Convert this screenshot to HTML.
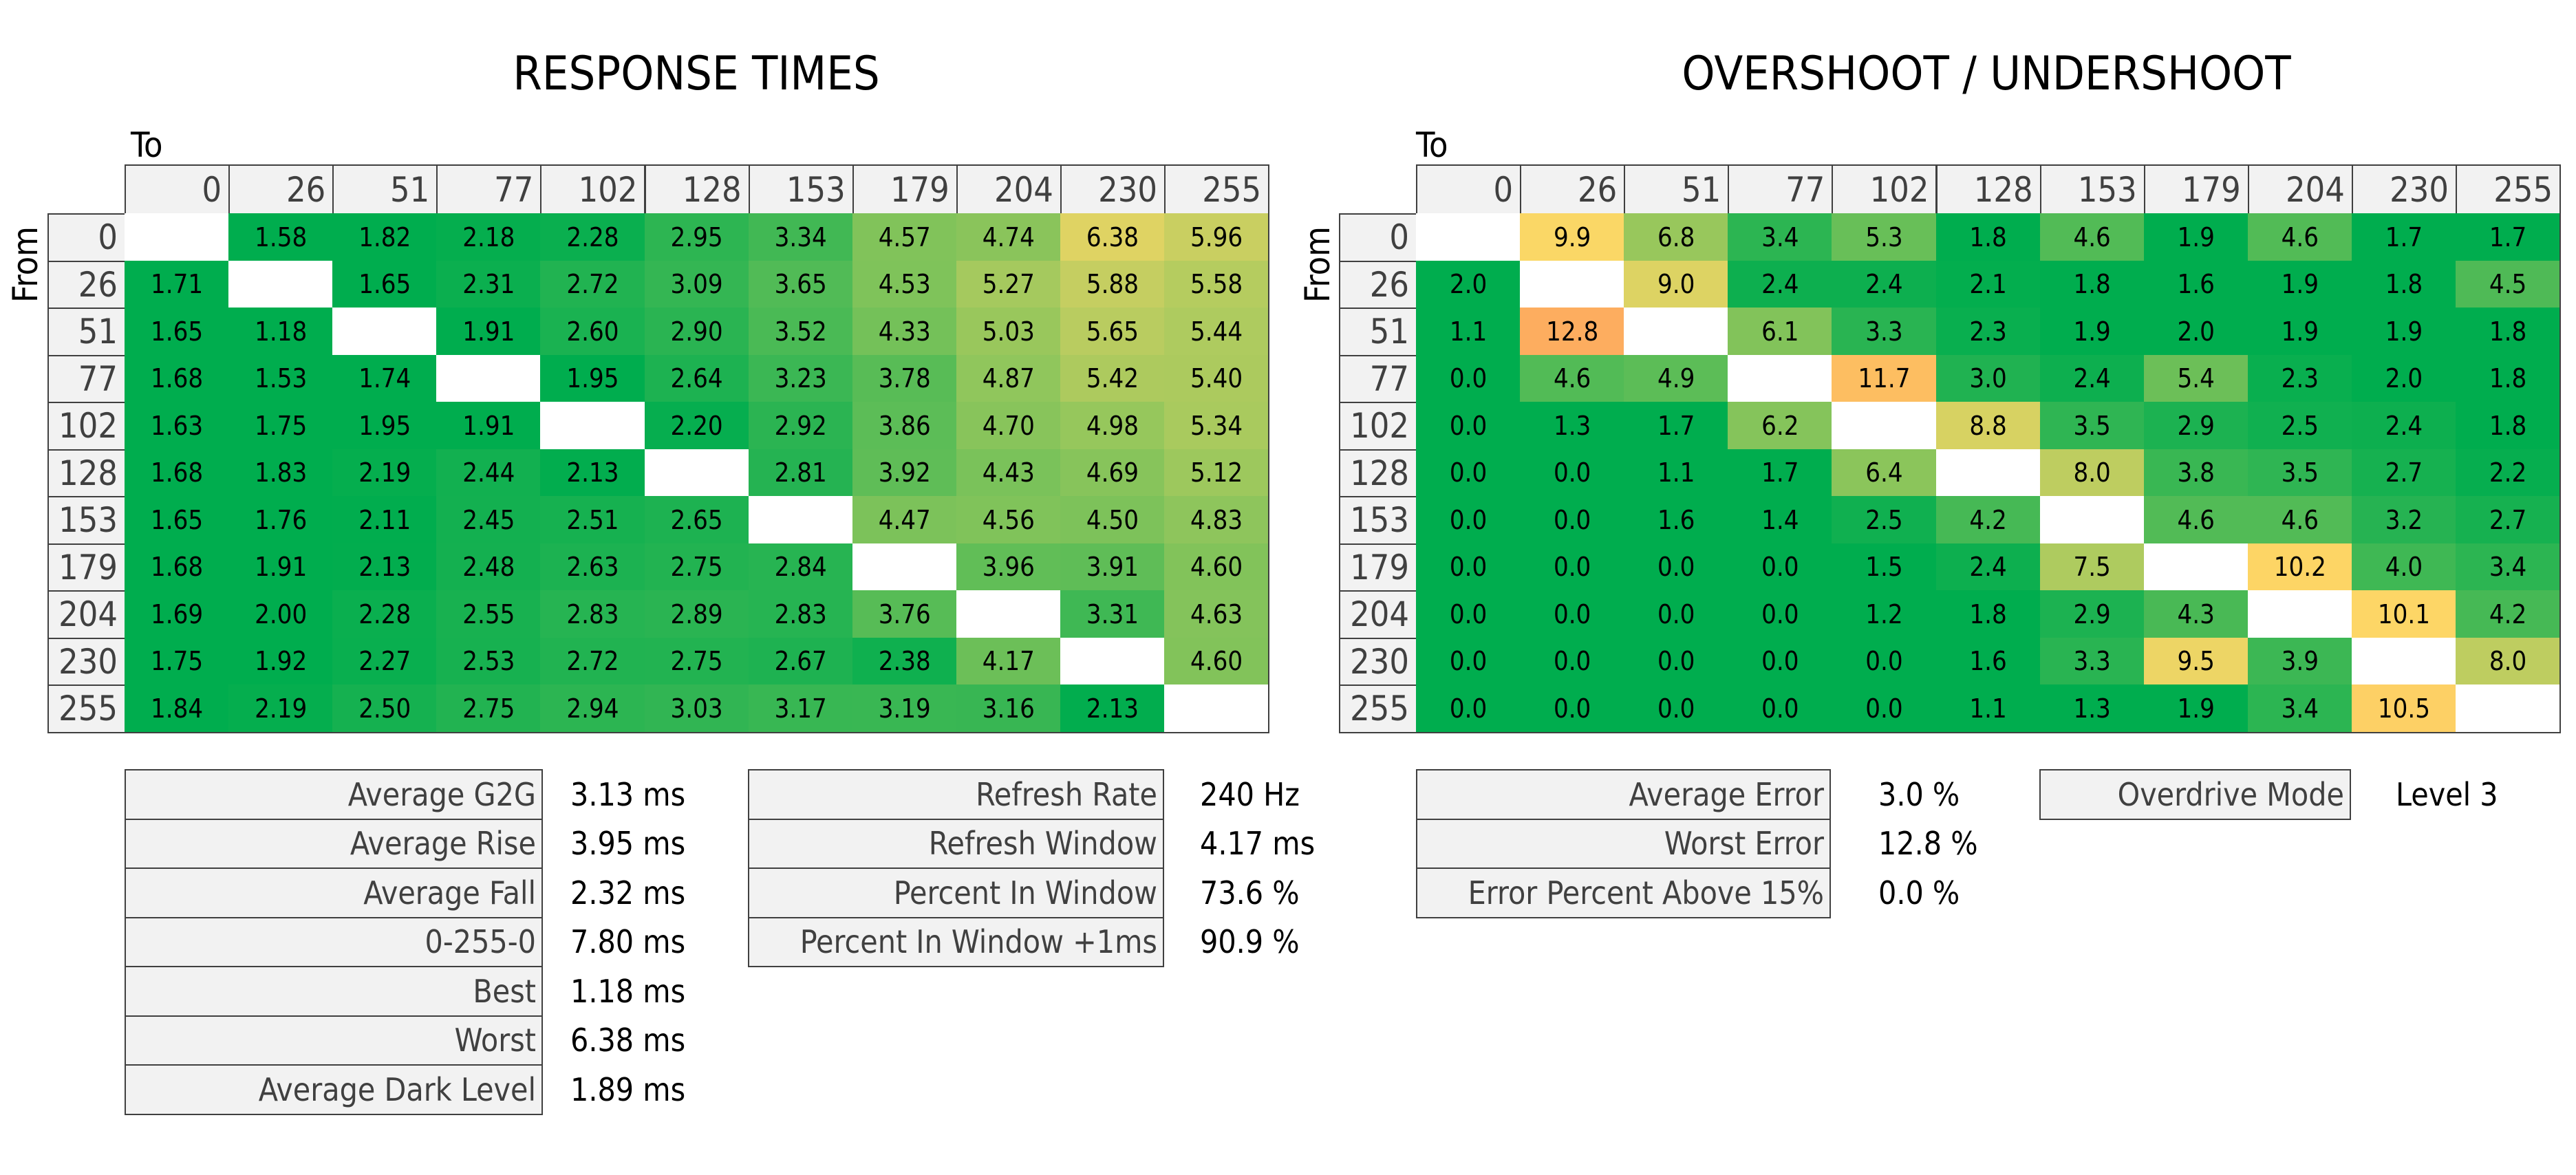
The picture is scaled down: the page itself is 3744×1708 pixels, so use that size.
<!DOCTYPE html>
<html><head><meta charset="utf-8"><style>
html,body{margin:0;padding:0;background:#fff;}
body{width:3744px;height:1708px;position:relative;overflow:hidden;font-family:"DejaVu Sans Condensed","DejaVu Sans","Liberation Sans",sans-serif;}
.a{position:absolute;box-sizing:border-box;}
.t{font-weight:normal;font-size:68px;color:#000;text-align:center;}
.h{background:#f2f2f2;border:2px solid #404040;color:#404040;font-size:50px;text-align:right;padding-right:10px;display:flex;align-items:center;justify-content:flex-end;}
.c{font-size:38px;color:#000;display:flex;align-items:center;justify-content:center;}
.s{background:#f2f2f2;border:2px solid #404040;color:#404040;font-size:46px;display:flex;align-items:center;justify-content:flex-end;padding-right:8px;}
.v{font-size:46px;color:#000;display:flex;align-items:center;}
</style></head><body>
<div class="a t" style="left:612px;top:68px;width:800px;">RESPONSE TIMES</div>
<div class="a t" style="left:2387px;top:68px;width:1000px;">OVERSHOOT / UNDERSHOOT</div>
<div class="a" style="left:190px;top:182px;font-size:50px;color:#000;">To</div>
<div class="a" style="left:2058px;top:182px;font-size:50px;color:#000;">To</div>
<div class="a" style="left:8px;font-size:50px;transform:rotate(-90deg);transform-origin:left top;top:440px;">From</div>
<div class="a" style="left:1886px;top:440px;font-size:50px;transform:rotate(-90deg);transform-origin:left top;">From</div>
<div id="root"></div>
<script>
const lab=[0,26,51,77,102,128,153,179,204,230,255];
const R=[[null,1.58,1.82,2.18,2.28,2.95,3.34,4.57,4.74,6.38,5.96],
[1.71,null,1.65,2.31,2.72,3.09,3.65,4.53,5.27,5.88,5.58],
[1.65,1.18,null,1.91,2.60,2.90,3.52,4.33,5.03,5.65,5.44],
[1.68,1.53,1.74,null,1.95,2.64,3.23,3.78,4.87,5.42,5.40],
[1.63,1.75,1.95,1.91,null,2.20,2.92,3.86,4.70,4.98,5.34],
[1.68,1.83,2.19,2.44,2.13,null,2.81,3.92,4.43,4.69,5.12],
[1.65,1.76,2.11,2.45,2.51,2.65,null,4.47,4.56,4.50,4.83],
[1.68,1.91,2.13,2.48,2.63,2.75,2.84,null,3.96,3.91,4.60],
[1.69,2.00,2.28,2.55,2.83,2.89,2.83,3.76,null,3.31,4.63],
[1.75,1.92,2.27,2.53,2.72,2.75,2.67,2.38,4.17,null,4.60],
[1.84,2.19,2.50,2.75,2.94,3.03,3.17,3.19,3.16,2.13,null]];
const O=[[null,9.9,6.8,3.4,5.3,1.8,4.6,1.9,4.6,1.7,1.7],
[2.0,null,9.0,2.4,2.4,2.1,1.8,1.6,1.9,1.8,4.5],
[1.1,12.8,null,6.1,3.3,2.3,1.9,2.0,1.9,1.9,1.8],
[0.0,4.6,4.9,null,11.7,3.0,2.4,5.4,2.3,2.0,1.8],
[0.0,1.3,1.7,6.2,null,8.8,3.5,2.9,2.5,2.4,1.8],
[0.0,0.0,1.1,1.7,6.4,null,8.0,3.8,3.5,2.7,2.2],
[0.0,0.0,1.6,1.4,2.5,4.2,null,4.6,4.6,3.2,2.7],
[0.0,0.0,0.0,0.0,1.5,2.4,7.5,null,10.2,4.0,3.4],
[0.0,0.0,0.0,0.0,1.2,1.8,2.9,4.3,null,10.1,4.2],
[0.0,0.0,0.0,0.0,0.0,1.6,3.3,9.5,3.9,null,8.0],
[0.0,0.0,0.0,0.0,0.0,1.1,1.3,1.9,3.4,10.5,null]];
function col(t){
 if(t<0)t=0;
 if(t<=1){return `rgb(${Math.round(253*t)},${Math.round(173+43*t)},${Math.round(78+24*t)})`;}
 let u=Math.min((t-1)/0.375,1);
 return `rgb(253,${Math.round(216-46*u)},${Math.round(102-8*u)})`;
}
let h='';
function table(x0,lx,data,tf,dec){
 const cw=151.1, top=239, hh=71, rh=68.5;
 const dx=x0;
 for(let j=0;j<11;j++){h+=`<div class="a h" style="left:${dx+j*cw}px;top:${top}px;width:${cw+2}px;height:${hh+2}px">${lab[j]}</div>`;}
 for(let i=0;i<11;i++){
  h+=`<div class="a h" style="left:${lx}px;top:${top+hh+i*rh}px;width:${dx-lx+2}px;height:${rh+2}px">${lab[i]}</div>`;
  for(let j=0;j<11;j++){const v=data[i][j];
   const bg=v===null?'#fff':col(tf(v));
   h+=`<div class="a c" style="left:${dx+j*cw}px;top:${top+hh+i*rh}px;width:${cw+1}px;height:${rh+1}px;background:${bg}">${v===null?'':v.toFixed(dec)}</div>`;}
 }
 h+=`<div class="a" style="left:${dx}px;top:${top+hh}px;width:${11*cw+2}px;height:${11*rh+2}px;border:2px solid #404040;border-top:none;border-left:none"></div>`;
}
table(181,69,R,v=>(v-2.09)/4.87,2);
table(2058,1946,O,v=>(v-2)/8,1);
function stats(x,w,vx,items){
 items.forEach((it,i)=>{const y=1118+i*71.5;
  h+=`<div class="a s" style="left:${x}px;top:${y}px;width:${w}px;height:73.5px">${it[0]}</div>`;
  h+=`<div class="a v" style="left:${vx}px;top:${y}px;height:73.5px">${it[1]}</div>`;});
}
stats(181,608,829,[["Average G2G","3.13 ms"],["Average Rise","3.95 ms"],["Average Fall","2.32 ms"],["0-255-0","7.80 ms"],["Best","1.18 ms"],["Worst","6.38 ms"],["Average Dark Level","1.89 ms"]]);
stats(1087,605,1744,[["Refresh Rate","240 Hz"],["Refresh Window","4.17 ms"],["Percent In Window","73.6 %"],["Percent In Window +1ms","90.9 %"]]);
stats(2058,603,2730,[["Average Error","3.0 %"],["Worst Error","12.8 %"],["Error Percent Above 15%","0.0 %"]]);
stats(2964,453,3482,[["Overdrive Mode","Level 3"]]);
document.getElementById('root').innerHTML=h;
</script>
</body></html>
